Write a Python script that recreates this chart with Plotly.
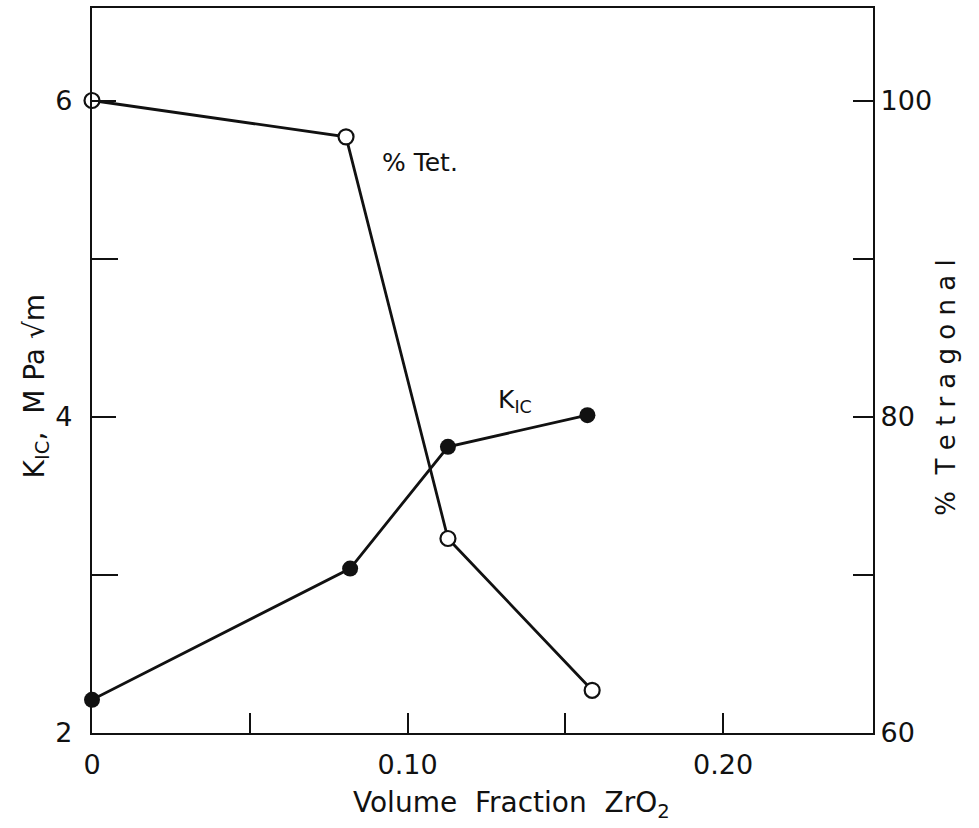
import plotly.graph_objects as go

# Data
vf_tet = [0.0, 0.0805, 0.1128, 0.1585]
pct_tet = [100.0, 97.7, 72.3, 62.7]

vf_kic = [0.0, 0.0818, 0.1128, 0.157]
kic = [2.21, 3.04, 3.81, 4.01]

x_ticks = [0, 0.10, 0.20]
x_labels = ["0", "0.10", "0.20"]
x_minor = [0.05, 0.15]
y_ticks = [2, 4, 6]
y_labels = ["2", "4", "6"]
y_minor = [3, 5]
y2_ticks = [60, 80, 100]
y2_labels = ["60", "80", "100"]
y2_minor = [70, 90]

FONT = "DejaVu Sans"
BLACK = "#111111"

fig = go.Figure()
fig.add_trace(go.Scatter(
    x=vf_tet, y=pct_tet, yaxis="y2", mode="lines+markers",
    line=dict(color=BLACK, width=2.8),
    marker=dict(symbol="circle", size=15, color="white", line=dict(color=BLACK, width=2.2)),
    showlegend=False, cliponaxis=False))
fig.add_trace(go.Scatter(
    x=vf_kic, y=kic, mode="lines+markers",
    line=dict(color=BLACK, width=2.8),
    marker=dict(symbol="circle", size=16, color=BLACK),
    showlegend=False, cliponaxis=False))

axis_common = dict(showgrid=False, zeroline=False, showline=True, linecolor=BLACK,
                   linewidth=2.4, ticks="inside", tickcolor=BLACK, tickwidth=2,
                   tickfont=dict(family=FONT, size=27, color=BLACK))

fig.update_layout(
    width=979, height=828,
    margin=dict(l=92, r=106, t=6, b=95),
    paper_bgcolor="white", plot_bgcolor="white",
    xaxis=dict(range=[0, 0.2475], tickvals=x_ticks, ticktext=x_labels, ticklen=20,
               ticklabelstandoff=6, mirror=True,
               minor=dict(tickvals=x_minor, ticks="inside", ticklen=20, tickwidth=2, tickcolor=BLACK),
               **axis_common),
    yaxis=dict(range=[2, 6.585], tickvals=y_ticks, ticktext=y_labels, ticklen=24,
               ticklabelstandoff=12,
               minor=dict(tickvals=y_minor, ticks="inside", ticklen=26, tickwidth=2, tickcolor=BLACK),
               **axis_common),
    yaxis2=dict(range=[60, 105.85], tickvals=y2_ticks, ticktext=y2_labels, ticklen=20,
                overlaying="y", side="right",
                minor=dict(tickvals=y2_minor, ticks="inside", ticklen=20, tickwidth=2, tickcolor=BLACK),
                **axis_common),
    annotations=[
        dict(text="Volume  Fraction  ZrO<sub>2</sub>", x=0.537, y=-0.07, xref="paper", yref="paper",
             showarrow=False, yanchor="top", font=dict(family=FONT, size=28, color=BLACK)),
        dict(text="K<sub>IC</sub>,  M Pa √m", x=-0.098, y=0.478, xref="paper", yref="paper",
             textangle=-90, showarrow=False, font=dict(family=FONT, size=28, color=BLACK)),
        dict(text="%  T e t r a g o n a l", x=1.115, y=0.476, xref="paper", yref="paper",
             textangle=-90, showarrow=False, font=dict(family=FONT, size=26, color=BLACK)),
        dict(text="% Tet.", x=0.104, y=5.61, xref="x", yref="y", showarrow=False,
             font=dict(family=FONT, size=25, color=BLACK)),
        dict(text="K<sub>IC</sub>", x=0.134, y=4.1, xref="x", yref="y", showarrow=False,
             font=dict(family=FONT, size=25, color=BLACK)),
    ],
)

fig.write_html("out.html")
